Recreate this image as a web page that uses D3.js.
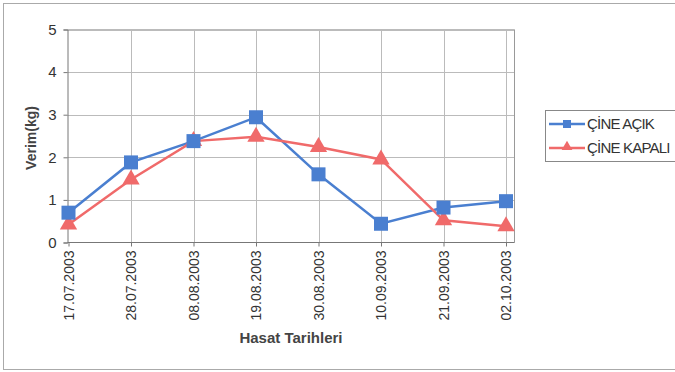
<!DOCTYPE html>
<html><head><meta charset="utf-8">
<script src="https://cdn.jsdelivr.net/npm/d3@7"></script>
<style>body{margin:0;background:#fff}svg{display:block}</style>
</head><body>
<script>
const categories = ["17.07.2003","28.07.2003","08.08.2003","19.08.2003","30.08.2003","10.09.2003","21.09.2003","02.10.2003"];
const acik = [0.70, 1.88, 2.38, 2.94, 1.60, 0.44, 0.82, 0.97];
const kapali = [0.42, 1.48, 2.38, 2.48, 2.24, 1.95, 0.52, 0.38];
const seriesNames = ["ÇİNE AÇIK", "ÇİNE KAPALI"];
const yTicks = [0,1,2,3,4,5];

const W = 675, H = 372;
const font = "'Liberation Sans', Arial, sans-serif";
const svg = d3.select("body").append("svg").attr("width", W).attr("height", H);

svg.append("rect").attr("x",3.5).attr("y",3.5).attr("width",W+5).attr("height",366)
  .attr("fill","#fff").attr("stroke","#aaa").attr("stroke-width",1);

const L = 67.5, R = 514.5, T = 29.5, B = 242.5;
const x = d3.scalePoint().domain(categories).range([L+1, 506]);
const y = d3.scaleLinear().domain([0,5]).range([B, T]);

// gridlines
const g = svg.append("g");
g.selectAll(".hg").data(yTicks.slice(1)).join("line")
  .attr("x1",L).attr("x2",R).attr("y1",d=>Math.round(y(d))+0.5).attr("y2",d=>Math.round(y(d))+0.5)
  .attr("stroke","#bbb").attr("stroke-width",1);
g.selectAll(".vg").data(categories.slice(1)).join("line")
  .attr("x1",d=>Math.round(x(d))+0.5).attr("x2",d=>Math.round(x(d))+0.5).attr("y1",T).attr("y2",B)
  .attr("stroke","#bbb").attr("stroke-width",1);
g.append("line").attr("x1",R).attr("x2",R).attr("y1",T).attr("y2",B).attr("stroke","#999");
g.append("line").attr("x1",L).attr("x2",R).attr("y1",T).attr("y2",T).attr("stroke","#bbb");

// axes
const yAxis = d3.axisLeft(y).tickValues(yTicks).tickFormat(d3.format("d")).tickSize(4).tickPadding(7);
const ya = svg.append("g").attr("transform",`translate(${L},0)`).call(yAxis);
ya.select(".domain").attr("stroke","#777");
ya.selectAll(".tick line").attr("stroke","#777");
ya.selectAll("text").attr("font-family",font).attr("font-size",15).attr("fill","#333");

const xAxis = d3.axisBottom(x).tickSize(4).tickSizeOuter(0);
const xa = svg.append("g").attr("transform",`translate(0,${B})`).call(xAxis);
xa.select(".domain").attr("stroke","#777").attr("d",`M${L},0H${R}`);
xa.selectAll(".tick line").attr("stroke","#777");
xa.selectAll("text").attr("font-family",font).attr("font-size",14).attr("fill","#333")
  .attr("transform","rotate(-90)").attr("text-anchor","end").attr("x",-8).attr("y",0).attr("dy","0.35em");

// axis titles
svg.append("text").attr("transform",`translate(36,${(T+B)/2 + 2}) rotate(-90)`).attr("text-anchor","middle")
  .attr("font-family",font).attr("font-weight","bold").attr("font-size",14).attr("fill","#444").text("Verim(kg)");
svg.append("text").attr("x",(L+R)/2).attr("y",343).attr("text-anchor","middle")
  .attr("font-family",font).attr("font-weight","bold").attr("font-size",15).attr("fill","#444").text("Hasat Tarihleri");

const blue = "#4a7fd0", red = "#f06a6a";
const line = d3.line().x((d,i)=>x(categories[i])).y(d=>y(d));
svg.append("path").datum(acik).attr("d",line).attr("fill","none").attr("stroke",blue).attr("stroke-width",2.5);
svg.append("path").datum(kapali).attr("d",line).attr("fill","none").attr("stroke",red).attr("stroke-width",2.5);

const tri = d3.symbol().type(d3.symbolTriangle).size(130);
svg.selectAll(".tri").data(kapali).join("path")
  .attr("transform",(d,i)=>`translate(${x(categories[i])},${y(d)})`).attr("d",tri).attr("fill",red);
svg.selectAll(".sq").data(acik).join("rect")
  .attr("x",(d,i)=>x(categories[i])-7).attr("y",d=>y(d)-7).attr("width",14).attr("height",14).attr("fill",blue);

// legend
const lg = svg.append("g");
lg.append("rect").attr("x",545.5).attr("y",110.5).attr("width",132).attr("height",51).attr("fill","#fff").attr("stroke","#888");
const legItems = [{name:seriesNames[0], c:blue, m:"sq", yy:124},{name:seriesNames[1], c:red, m:"tri", yy:148}];
legItems.forEach(it=>{
  lg.append("line").attr("x1",549).attr("x2",585).attr("y1",it.yy).attr("y2",it.yy).attr("stroke",it.c).attr("stroke-width",2.5);
  if(it.m==="sq") lg.append("rect").attr("x",563).attr("y",it.yy-4).attr("width",8).attr("height",8).attr("fill",it.c);
  else lg.append("path").attr("transform",`translate(567,${it.yy-1})`).attr("d",d3.symbol().type(d3.symbolTriangle).size(50)).attr("fill",it.c);
  lg.append("text").attr("x",587).attr("y",it.yy).attr("dy","0.35em").attr("font-family",font)
    .attr("font-size",15).attr("letter-spacing","-0.8").attr("fill","#333").text(it.name);
});
</script>
</body></html>
